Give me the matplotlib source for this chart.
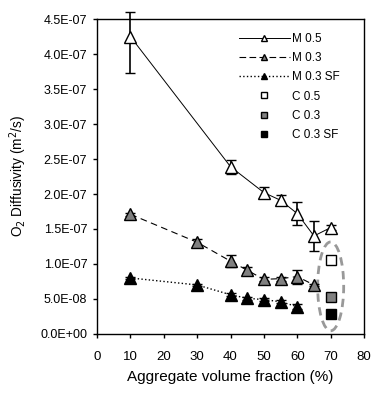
import matplotlib
matplotlib.use("Agg")
import matplotlib.pyplot as plt
from matplotlib.patches import Ellipse
from matplotlib.lines import Line2D
from matplotlib.ticker import FuncFormatter

plt.rcParams['font.family'] = ['Liberation Sans', 'DejaVu Sans']

# Data
x_m05 = [10, 40, 50, 55, 60, 65, 70]
y_m05 = [4.25e-7, 2.39e-7, 2.02e-7, 1.91e-7, 1.72e-7, 1.40e-7, 1.52e-7]
err_m05_lo = [0.52e-7, 0.10e-7, 0.08e-7, 0.07e-7, 0.17e-7, 0.22e-7, 0.04e-7]
err_m05_hi = [0.35e-7, 0.10e-7, 0.08e-7, 0.07e-7, 0.17e-7, 0.22e-7, 0.04e-7]

x_m03 = [10, 30, 40, 45, 50, 55, 60, 65]
y_m03 = [1.71e-7, 1.31e-7, 1.04e-7, 0.91e-7, 0.78e-7, 0.79e-7, 0.82e-7, 0.70e-7]
err_m03 = [0.02e-7, 0.05e-7, 0.09e-7, 0.04e-7, 0.03e-7, 0.03e-7, 0.10e-7, 0.02e-7]

x_m03sf = [10, 30, 40, 45, 50, 55, 60]
y_m03sf = [0.80e-7, 0.70e-7, 0.56e-7, 0.51e-7, 0.49e-7, 0.46e-7, 0.39e-7]
err_m03sf = [0.02e-7, 0.02e-7, 0.02e-7, 0.02e-7, 0.02e-7, 0.02e-7, 0.04e-7]

x_c = 70
y_c05 = 1.06e-7
y_c03 = 0.53e-7
y_c03sf = 0.29e-7

labels = ['M 0.5', 'M 0.3', 'M 0.3 SF', 'C 0.5', 'C 0.3', 'C 0.3 SF']
xticks = list(range(0, 81, 10))
yticks = [i * 0.5e-7 for i in range(10)]

fig = plt.figure(figsize=(3.82, 3.98), dpi=100)
ax = fig.add_axes([0.254, 0.161, 0.699, 0.791])

ms = 9
eb = dict(ecolor='black', elinewidth=1.2, capsize=3.5, capthick=1.2, zorder=3)
ax.errorbar(x_m05, y_m05, yerr=[err_m05_lo, err_m05_hi], fmt='-', color='black',
            lw=0.7, marker='^', ms=ms, mfc='white', mec='black', mew=1.0,
            clip_on=False, **eb)
ax.errorbar(x_m03, y_m03, yerr=err_m03, fmt='--', color='black',
            lw=0.8, dashes=(6, 4), marker='^', ms=ms, mfc='#808080', mec='black', mew=1.0, **eb)
ax.errorbar(x_m03sf, y_m03sf, yerr=err_m03sf, fmt=':', color='black',
            lw=1.0, marker='^', ms=ms, mfc='black', mec='black', mew=1.0, **eb)
ax.plot([x_c], [y_c05], ls='none', marker='s', ms=7.5, mfc='white', mec='black', mew=1.0, zorder=3)
ax.plot([x_c], [y_c03], ls='none', marker='s', ms=7.5, mfc='#808080', mec='black', mew=1.0, zorder=3)
ax.plot([x_c], [y_c03sf], ls='none', marker='s', ms=7.5, mfc='black', mec='black', mew=1.0, zorder=3)

ell = Ellipse((70, 0.68e-7), width=7.8, height=1.27e-7, fill=False,
              edgecolor='#999999', lw=2, ls=(0, (3, 2)), zorder=2)
ax.add_patch(ell)

ax.set_xlim(0, 80)
ax.set_ylim(0, 4.5e-7)
ax.set_xticks(xticks)
ax.set_yticks(yticks)
ax.yaxis.set_major_formatter(FuncFormatter(lambda v, p: '%.1E' % v))
ax.tick_params(direction='out', length=3, width=1, labelsize=9, pad=4)
ax.tick_params(axis='x', pad=9, labelsize=9.5)
for s in ax.spines.values():
    s.set_linewidth(1.0)

ax.set_xlabel('Aggregate volume fraction (%)', fontsize=11, labelpad=5)
ax.set_ylabel('O$_2$ Diffusivity (m$^2$/s)', fontsize=9.8, labelpad=8)

lms = 4.5
handles = [
    Line2D([], [], color='black', lw=0.7, marker='^', ms=lms, mfc='white', mec='black'),
    Line2D([], [], color='black', lw=0.8, ls='--', dashes=(6, 3), marker='^', ms=lms, mfc='#808080', mec='black'),
    Line2D([], [], color='black', lw=1.0, ls=':', marker='^', ms=lms, mfc='black', mec='black'),
    Line2D([], [], ls='none', marker='s', ms=lms, mfc='white', mec='black'),
    Line2D([], [], ls='none', marker='s', ms=lms, mfc='#808080', mec='black'),
    Line2D([], [], ls='none', marker='s', ms=lms, mfc='black', mec='black'),
]
ax.legend(handles, labels, loc='upper left', frameon=False, fontsize=8.5,
          handlelength=4.3, handletextpad=0.15, labelspacing=0.62,
          borderpad=0, borderaxespad=0, bbox_to_anchor=(0.532, 0.957))

fig.savefig('out.png', dpi=100)
